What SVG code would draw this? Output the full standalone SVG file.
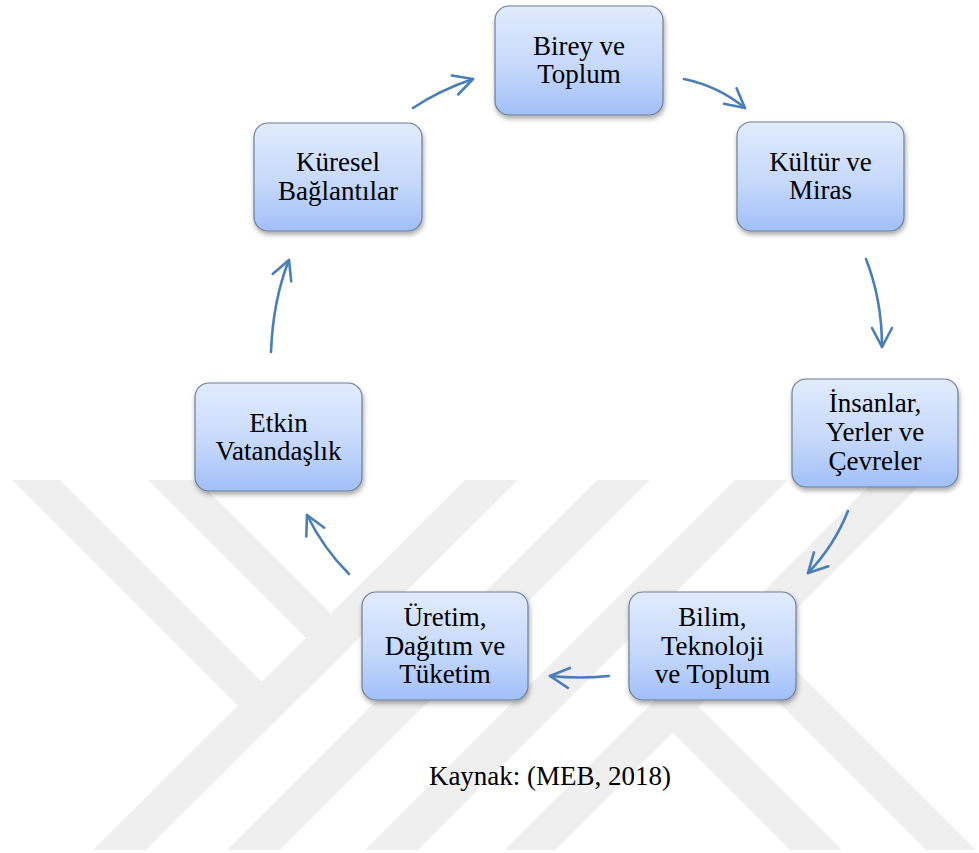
<svg xmlns="http://www.w3.org/2000/svg" width="979" height="853" viewBox="0 0 979 853">
  <defs>
    <linearGradient id="boxfill" x1="0" y1="0" x2="0" y2="1">
      <stop offset="0" stop-color="#e1ebfd"/>
      <stop offset="0.55" stop-color="#c6d9fb"/>
      <stop offset="1" stop-color="#a1bff8"/>
    </linearGradient>
    <filter id="shadow" x="-20%" y="-20%" width="140%" height="150%">
      <feDropShadow dx="1" dy="3" stdDeviation="2.5" flood-color="#000000" flood-opacity="0.35"/>
    </filter>
    <marker id="ah" markerUnits="userSpaceOnUse" viewBox="-24 -14 28 28" markerWidth="28" markerHeight="28" refX="0" refY="0" orient="auto" overflow="visible">
      <path d="M-19,-10 L0,0 L-19,10" fill="none" stroke="#4a7ebb" stroke-width="2.6" stroke-linecap="round" stroke-linejoin="round"/>
    </marker>
    <clipPath id="wmclip"><rect x="0" y="480" width="979" height="370"/></clipPath>
  </defs>
  <style>
    .box { fill: url(#boxfill); stroke: #6e7f96; stroke-width: 1.2; filter: url(#shadow); }
    .lbl { font-family: "Liberation Serif", "Times New Roman", serif; font-size: 27px; fill: #000000; text-anchor: middle; }
    .conn { fill: none; stroke: #4a7ebb; stroke-width: 2.6; stroke-linecap: round; marker-end: url(#ah); }
    .wm { fill: #efefef; }
  </style>
  <rect x="0" y="0" width="979" height="853" fill="#ffffff"/>

  <g id="watermark" clip-path="url(#wmclip)">
    <polygon class="wm" points="465,480 518,480 146,850 93,850"/>
    <polygon class="wm" points="597,480 650,480 280,850 227,850"/>
    <polygon class="wm" points="735,480 788,480 418,850 365,850"/>
    <polygon class="wm" points="875,480 925,480 555,850 505,850"/>
    <polygon class="wm" points="12,480 60,480 265,685 241,709"/>
    <polygon class="wm" points="148,480 197,480 334,617 309,641"/>
    <polygon class="wm" points="670,730 696,704 842,850 790,850"/>
    <polygon class="wm" points="738,662 763,637 978,852 928,852"/>
  </g>

  <g id="connectors">
    <path class="conn" d="M684,79 Q718,86 745,108"/>
    <path class="conn" d="M866,259 Q882,300 882,347"/>
    <path class="conn" d="M848,511 Q834,546 808,573"/>
    <path class="conn" d="M609,676 Q580,679 550,676"/>
    <path class="conn" d="M349,574 Q323,548 307,515"/>
    <path class="conn" d="M271,352 Q273,300 289,260"/>
    <path class="conn" d="M413,108 Q440,90 473,79"/>
  </g>

  <g id="node-birey">
    <rect class="box" x="495" y="6" width="168" height="109" rx="14"/>
    <text class="lbl" x="579" y="55">Birey ve</text>
    <text class="lbl" x="579" y="83">Toplum</text>
  </g>
  <g id="node-kultur">
    <rect class="box" x="737" y="122" width="167" height="109" rx="14"/>
    <text class="lbl" x="820.5" y="171">Kültür ve</text>
    <text class="lbl" x="820.5" y="199">Miras</text>
  </g>
  <g id="node-insanlar">
    <rect class="box" x="792" y="379" width="166" height="108" rx="14"/>
    <text class="lbl" x="875" y="412">İnsanlar,</text>
    <text class="lbl" x="875" y="441">Yerler ve</text>
    <text class="lbl" x="875" y="470">Çevreler</text>
  </g>
  <g id="node-bilim">
    <rect class="box" x="629" y="592" width="167" height="108" rx="14"/>
    <text class="lbl" x="712.5" y="626">Bilim,</text>
    <text class="lbl" x="712.5" y="655">Teknoloji</text>
    <text class="lbl" x="712.5" y="683">ve Toplum</text>
  </g>
  <g id="node-uretim">
    <rect class="box" x="362" y="592" width="166" height="108" rx="14"/>
    <text class="lbl" x="445" y="626">Üretim,</text>
    <text class="lbl" x="445" y="655">Dağıtım ve</text>
    <text class="lbl" x="445" y="683">Tüketim</text>
  </g>
  <g id="node-etkin">
    <rect class="box" x="195" y="383" width="167" height="108" rx="14"/>
    <text class="lbl" x="278.5" y="432">Etkin</text>
    <text class="lbl" x="278.5" y="460">Vatandaşlık</text>
  </g>
  <g id="node-kuresel">
    <rect class="box" x="254" y="123" width="168" height="108" rx="14"/>
    <text class="lbl" x="338" y="171">Küresel</text>
    <text class="lbl" x="338" y="200">Bağlantılar</text>
  </g>

  <text id="caption" class="lbl" x="550" y="785">Kaynak: (MEB, 2018)</text>
</svg>
